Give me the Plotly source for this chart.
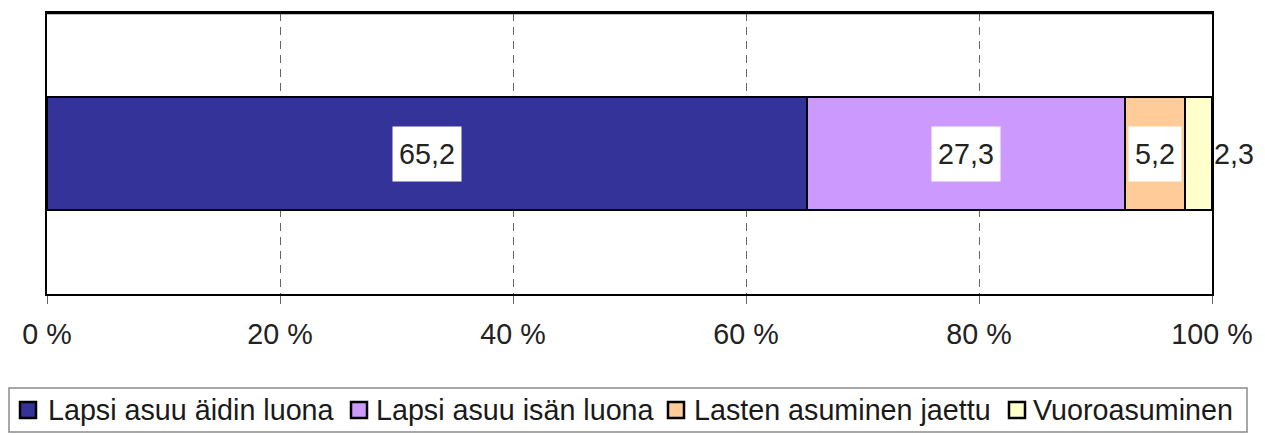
import plotly.graph_objects as go

categories = ["Lapsi asuu äidin luona", "Lapsi asuu isän luona", "Lasten asuminen jaettu", "Vuoroasuminen"]
values = [65.2, 27.3, 5.2, 2.3]
colors = ["#333399", "#CC99FF", "#FFCC99", "#FFFFCC"]
tick_vals = [0, 20, 40, 60, 80, 100]
tick_text = ["0 %", "20 %", "40 %", "60 %", "80 %", "100 %"]
row = [""]

FONT = "Liberation Sans, Arial, sans-serif"
FS = 28.7
OFF = 8  # page body margin
W, H = 1265 - OFF, 436 - OFF
# plot area in window pixels: x 47..1212, y 13..294
ML, MT = 47 - OFF, 13 - OFF
MR = W - (1212 - OFF)
MB = H - (294 - OFF)
PW, PH = W - ML - MR, H - MT - MB


def px_x(p):
    return (p - OFF - ML) / PW


def px_y(p):
    return (H - MB - (p - OFF)) / PH


fig = go.Figure()
for name, v, c in zip(categories, values, colors):
    fig.add_trace(go.Bar(
        y=row, x=[v], name=name, orientation="h",
        marker=dict(color=c, line=dict(color="black", width=2)),
        hoverinfo="skip", showlegend=False,
    ))

cum = 0
for i, v in enumerate(values):
    label = f"{v:.1f}".replace(".", ",")
    if i < len(values) - 1:
        fig.add_annotation(x=cum + v / 2, y=0, text=label, showarrow=False,
                           bgcolor="white", borderpad=6, height=42,
                           font=dict(family=FONT, size=FS, color="#222222"))
    else:
        fig.add_annotation(x=cum + v, y=0, text=label, showarrow=False,
                           xanchor="left", xshift=0,
                           font=dict(family=FONT, size=FS, color="#222222"))
    cum += v

# top frame line of the plot area
fig.add_shape(type="line", xref="paper", yref="paper", x0=px_x(46), x1=px_x(1213),
              y0=1, y1=1, line=dict(color="black", width=2.5))

# legend (box, swatches, labels) in window pixel positions
legend_left, legend_right, legend_top, legend_bottom = 9, 1247, 388, 432
swatch_x = [20, 351, 668, 1009]
text_x = [47, 375, 693, 1032]
sw, yc = 16, 410
fig.add_shape(type="rect", xref="paper", yref="paper",
              x0=px_x(legend_left), x1=px_x(legend_right),
              y0=px_y(legend_bottom), y1=px_y(legend_top),
              line=dict(color="#8a8a8a", width=1.5), fillcolor="white", layer="below")
for name, c, sx, tx in zip(categories, colors, swatch_x, text_x):
    fig.add_shape(type="rect", xref="paper", yref="paper",
                  x0=px_x(sx), x1=px_x(sx + sw),
                  y0=px_y(yc + sw / 2), y1=px_y(yc - sw / 2),
                  line=dict(color="black", width=2.5), fillcolor=c)
    fig.add_annotation(xref="paper", yref="paper", x=px_x(tx), y=px_y(yc),
                       xanchor="left", yanchor="middle", text=name, showarrow=False,
                       borderpad=0,
                       font=dict(family=FONT, size=FS, color="#1a1a1a"))

fig.update_layout(
    width=W, height=H,
    margin=dict(l=ML, r=MR, t=MT, b=MB, autoexpand=False),
    barmode="stack", bargap=0.6,
    plot_bgcolor="white", paper_bgcolor="white",
    font=dict(family=FONT, size=FS, color="#222222"),
    showlegend=False,
)
fig.update_xaxes(range=[0, 100], tickvals=tick_vals, ticktext=tick_text,
                 showgrid=True, gridcolor="#666666", griddash="8px,6px", gridwidth=1,
                 showline=True, linecolor="black", linewidth=2, mirror=True,
                 ticks="outside", ticklen=8, tickcolor="#666666",
                 ticklabelstandoff=6,
                 tickfont=dict(family=FONT, size=FS, color="#222222"),
                 zeroline=False, fixedrange=True)
fig.update_yaxes(range=[-0.5, 0.5], showticklabels=False, showgrid=False,
                 showline=True, linecolor="black", linewidth=2, mirror=True,
                 ticks="", zeroline=False)

fig.write_html("out.html")
